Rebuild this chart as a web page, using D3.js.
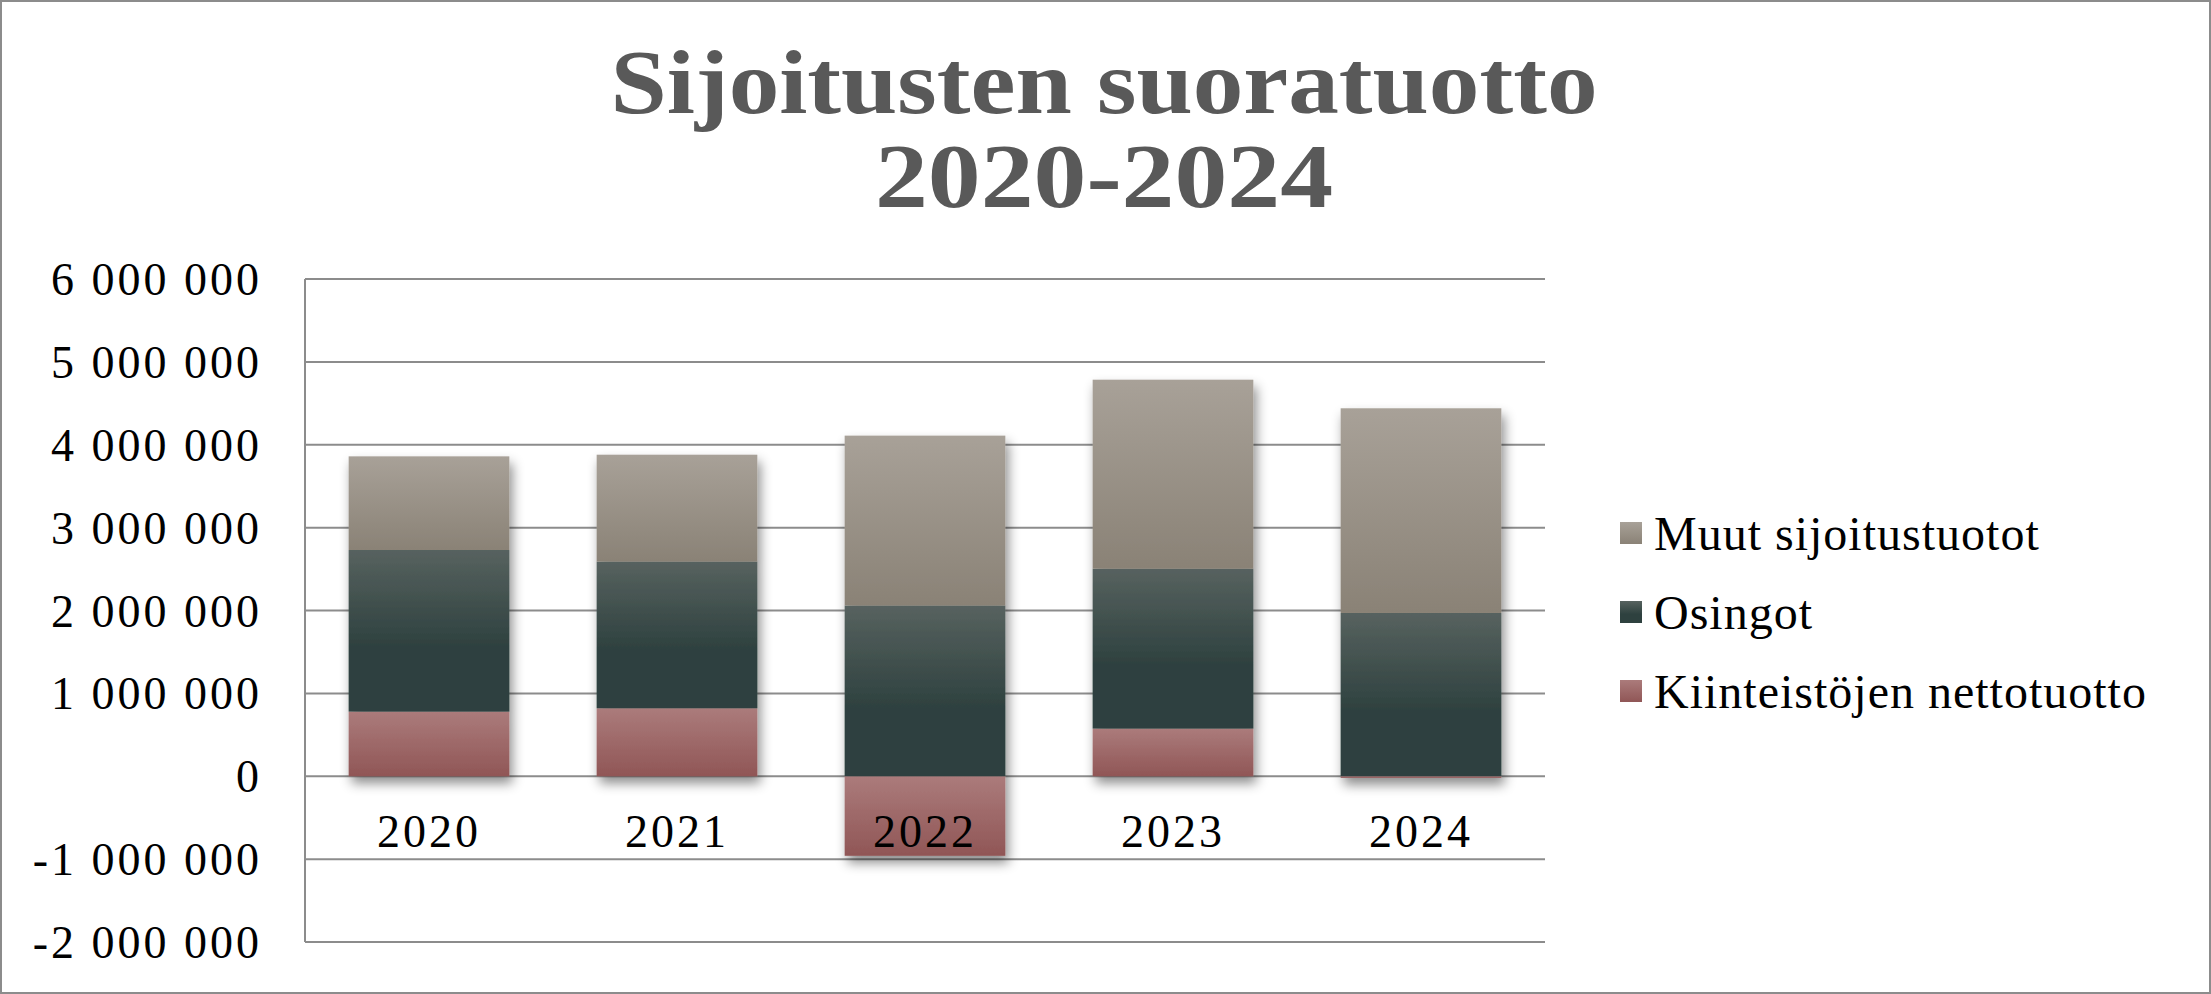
<!DOCTYPE html>
<meta charset="utf-8">
<style>
body {
  margin: 0;
  background: #fff;
}
text {
  font-family: "Liberation Serif", "DejaVu Serif", serif;
}
.title {
  font-weight: bold;
  fill: #595959;
  font-size: 90px;
}
.grid line {
  stroke: #8c8c8c;
  stroke-width: 2px;
}
.tick-label {
  font-size: 46px;
  letter-spacing: 3px;
  fill: #000;
}
.legend text {
  font-size: 48px;
  letter-spacing: 1px;
  fill: #000;
}
</style>
<body>
<script src="https://d3js.org/d3.v7.min.js"></script>
<script>

var width = 2211,
    height = 994;

// data
var years = ["2020", "2021", "2022", "2023", "2024"];
var kiinteistot = [780000, 820000, -960000, 575000, -20000];
var osingot = [1950000, 1770000, 2060000, 1930000, 1970000];
var muut = [1130000, 1290000, 2050000, 2280000, 2470000];

var seriesNames = ["Kiinteistöjen nettotuotto", "Osingot", "Muut sijoitustuotot"];
var yTicks = [-2000000, -1000000, 0, 1000000, 2000000, 3000000, 4000000, 5000000, 6000000];

var gradients = [
  ["#ab7b7b", "#905656"],
  ["#57625f", "#2e413f"],
  ["#a8a198", "#8a8276"]
];

var plot = {left: 305, right: 1545, top: 279, bottom: 942};

var svg = d3.select("body").append("svg")
    .attr("width", width)
    .attr("height", height);

var defs = svg.append("defs");

gradients.forEach(function(g, i) {
  var lg = defs.append("linearGradient")
      .attr("id", "grad" + i)
      .attr("x1", 0).attr("y1", 0).attr("x2", 0).attr("y2", 1);
  lg.append("stop").attr("offset", "0%").attr("stop-color", g[0]);
  lg.append("stop").attr("offset", i == 1 ? "60%" : "100%").attr("stop-color", g[1]);
  if (i == 1) lg.append("stop").attr("offset", "100%").attr("stop-color", g[1]);
});

var shadow = defs.append("filter")
    .attr("id", "shadow")
    .attr("x", "-20%").attr("y", "-20%")
    .attr("width", "140%").attr("height", "140%");
shadow.append("feDropShadow")
    .attr("dx", 3).attr("dy", 7)
    .attr("stdDeviation", 6)
    .attr("flood-color", "#000")
    .attr("flood-opacity", 0.45);

// frame
svg.append("rect")
    .attr("x", 1).attr("y", 1)
    .attr("width", width - 2).attr("height", height - 2)
    .attr("fill", "none")
    .attr("stroke", "#8c8c8c")
    .attr("stroke-width", 2);

var x = d3.scaleBand()
    .domain(years)
    .range([plot.left, plot.right])
    .paddingInner(0.352)
    .paddingOuter(0.176);

var y = d3.scaleLinear()
    .domain([-2000000, 6000000])
    .range([plot.bottom, plot.top]);

var locale = d3.formatLocale({
  decimal: ",",
  thousands: " ",
  grouping: [3],
  currency: ["", ""],
  minus: "-"
});
var fmt = locale.format(",.0f");

// gridlines
svg.append("g")
    .attr("class", "grid")
  .selectAll("line")
    .data(yTicks)
  .enter().append("line")
    .attr("x1", plot.left)
    .attr("x2", plot.right)
    .attr("y1", function(d) { return y(d); })
    .attr("y2", function(d) { return y(d); });

svg.append("line")
    .attr("x1", plot.left).attr("x2", plot.left)
    .attr("y1", plot.top).attr("y2", plot.bottom)
    .attr("stroke", "#8c8c8c")
    .attr("stroke-width", 2);

// y labels
svg.append("g")
  .selectAll("text")
    .data(yTicks)
  .enter().append("text")
    .attr("class", "tick-label")
    .attr("x", 262)
    .attr("y", function(d) { return y(d); })
    .attr("dy", "0.35em")
    .attr("text-anchor", "end")
    .text(function(d) { return fmt(d); });

// stacked bars, negatives go below zero
var rows = years.map(function(yr, i) {
  return {year: yr, values: [kiinteistot[i], osingot[i], muut[i]]};
});

var cols = svg.append("g").selectAll("g")
    .data(rows)
  .enter().append("g")
    .attr("filter", "url(#shadow)");

cols.each(function(d) {
  var pos = 0, neg = 0;
  var segs = d.values.map(function(v, k) {
    var s;
    if (v >= 0) { s = [pos, pos + v]; pos += v; }
    else { s = [neg + v, neg]; neg += v; }
    return {k: k, y0: s[0], y1: s[1]};
  });
  d3.select(this).selectAll("rect")
      .data(segs)
    .enter().append("rect")
      .attr("x", x(d.year))
      .attr("width", x.bandwidth())
      .attr("y", function(s) { return y(s.y1); })
      .attr("height", function(s) { return Math.max(0, y(s.y0) - y(s.y1)); })
      .attr("fill", function(s) { return "url(#grad" + s.k + ")"; });
});

// x labels
svg.append("g")
  .selectAll("text")
    .data(years)
  .enter().append("text")
    .attr("class", "tick-label")
    .attr("x", function(d) { return x(d) + x.bandwidth() / 2; })
    .attr("y", 847)
    .attr("text-anchor", "middle")
    .text(function(d) { return d; });

// title
svg.append("text")
    .attr("class", "title")
    .attr("x", 1104).attr("y", 113)
    .attr("text-anchor", "middle")
    .attr("textLength", 987)
    .attr("lengthAdjust", "spacingAndGlyphs")
    .text("Sijoitusten suoratuotto");

svg.append("text")
    .attr("class", "title")
    .attr("x", 1104).attr("y", 207)
    .attr("text-anchor", "middle")
    .attr("textLength", 458)
    .attr("lengthAdjust", "spacingAndGlyphs")
    .text("2020-2024");

// legend
var legendOrder = [2, 1, 0];
var legend = svg.append("g")
    .attr("class", "legend")
  .selectAll("g")
    .data(legendOrder)
  .enter().append("g")
    .attr("transform", function(d, i) { return "translate(1620," + (533 + i * 79) + ")"; });

legend.append("rect")
    .attr("x", 0).attr("y", -11)
    .attr("width", 22).attr("height", 22)
    .attr("fill", function(d) { return "url(#grad" + d + ")"; });

legend.append("text")
    .attr("x", 34)
    .attr("dy", "0.35em")
    .text(function(d) { return seriesNames[d]; });

</script>
